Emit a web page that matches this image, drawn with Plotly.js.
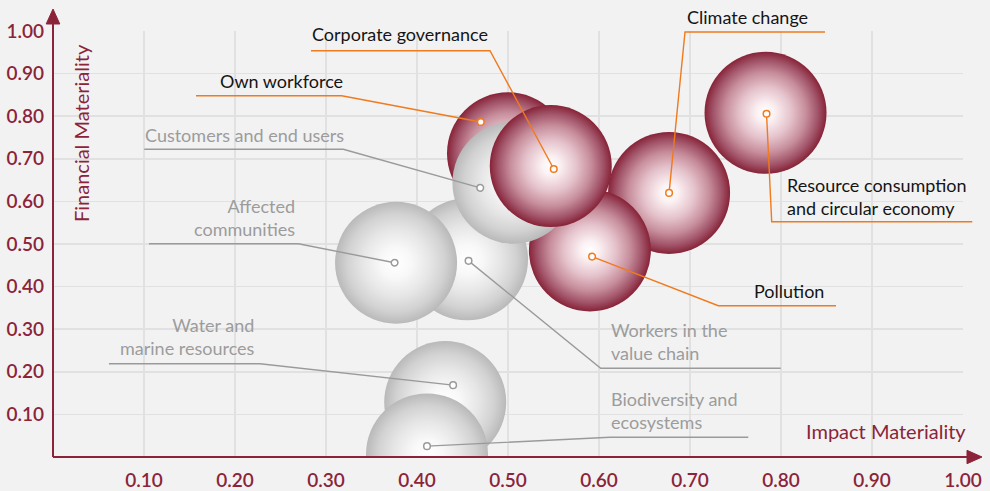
<!DOCTYPE html>
<html>
<head>
<meta charset="utf-8">
<script src="https://cdn.plot.ly/plotly-3.0.1.min.js"></script>
<style>
html,body{margin:0;padding:0;background:#f2f2f2;}
#chart{width:990px;height:491px;}
</style>
</head>
<body>
<div id="chart"></div>
<script>
// ---------- data (ESRS topics, drawing order) ----------
const topics = [
  "Climate change",
  "Pollution",
  "Water and marine resources",
  "Biodiversity and ecosystems",
  "Resource consumption and circular economy",
  "Own workforce",
  "Workers in the value chain",
  "Affected communities",
  "Customers and end users",
  "Corporate governance"
];
const impactMateriality    = [0.677, 0.590, 0.431, 0.411, 0.783, 0.500, 0.455, 0.377, 0.506, 0.547];
const financialMateriality = [0.620, 0.485, 0.129, 0.006, 0.808, 0.713, 0.464, 0.456, 0.644, 0.683];
const isMaterial           = [true, true, false, false, true, true, false, false, false, true];
const tickValues = [0.1, 0.2, 0.3, 0.4, 0.5, 0.6, 0.7, 0.8, 0.9, 1.0];
const tickLabels = ["0.10", "0.20", "0.30", "0.40", "0.50", "0.60", "0.70", "0.80", "0.90", "1.00"];

// ---------- layout / styling ----------
const L = 53, T = 31, W = 910, H = 426;
const fx = px => (px - L) / W;
const fy = py => (T + H - py) / H;

const RED = '#872338', GREY = '#b9b9b9', AXIS = '#8b2439';
const ORANGE = '#f07a1e', LEADGREY = '#9a9a9a';
const FONT = 'Lato, "Noto Sans", sans-serif';

// richer radial shading (applied to the gradients Plotly creates)
const RED_STOPS  = [[0, '#ffffff'], [0.15, '#fbf1f3'], [0.42, '#e5c3cc'], [0.66, '#c78e9c'], [0.85, '#a3566b'], [1, RED]];
const GREY_STOPS = [[0, '#ffffff'], [0.25, '#f8f8f8'], [0.55, '#e6e6e6'], [0.8, '#d2d2d2'], [1, GREY]];

// label placement (pixels): text position, anchor side, underline path, anchor offset from bubble centre
const labelLayout = {
  "Climate change": {text: "Climate change", x: 685, y: 17, xa: 'left', path: [[825, 32], [685, 32]], off: [0, 0]},
  "Corporate governance": {text: "Corporate governance", x: 490, y: 34, xa: 'right', path: [[311, 50.7], [490, 50.7]], off: [3, 3]},
  "Own workforce": {text: "Own workforce", x: 345, y: 81, xa: 'right', path: [[196, 95.7], [341.7, 95.7]], off: [-27.2, -31.2]},
  "Customers and end users": {text: "Customers and end users", x: 143, y: 135, xa: 'left', path: [[144.3, 149.3], [343.3, 149.3]], off: [-33.2, 5.2]},
  "Affected communities": {text: "Affected<br>communities", x: 297, y: 217, xa: 'right', path: [[149, 243.7], [298.3, 243.7]], off: [-1.5, 0]},
  "Water and marine resources": {text: "Water and<br>marine resources", x: 257, y: 337, xa: 'right', path: [[109, 363.7], [260, 363.7]], off: [7.9, -16.9]},
  "Workers in the value chain": {text: "Workers in the<br>value chain", x: 609, y: 341, xa: 'left', path: [[780.7, 368.3], [600.7, 368.3]], off: [1.5, 1.5]},
  "Biodiversity and ecosystems": {text: "Biodiversity and<br>ecosystems", x: 609, y: 410, xa: 'left', path: [[748.3, 437.3], [610, 437.3]], off: [0, -8.3]},
  "Pollution": {text: "Pollution", x: 752, y: 291, xa: 'left', path: [[836, 305.7], [718.3, 305.7]], off: [2.2, 6.2]},
  "Resource consumption and circular economy": {text: "Resource consumption<br>and circular economy", x: 785, y: 196, xa: 'left', path: [[972.3, 221.7], [771.7, 221.7]], off: [1, 1]}
};

const bubbleColors = isMaterial.map(m => m ? RED : GREY);

const bubbles = {
  type: 'scatter',
  mode: 'markers',
  x: impactMateriality,
  y: financialMateriality,
  text: topics,
  hoverinfo: 'text',
  cliponaxis: true,
  marker: {
    size: 122,
    color: bubbleColors,
    line: {width: 0},
    opacity: 1,
    gradient: {type: 'radial', color: '#ffffff'}
  },
  showlegend: false
};

const shapes = [];
const annotations = [];

// leader lines
topics.forEach((t, i) => {
  const cfg = labelLayout[t];
  const ax = impactMateriality[i] + cfg.off[0] / W;
  const ay = financialMateriality[i] - cfg.off[1] / H;
  const col = isMaterial[i] ? ORANGE : LEADGREY;
  let p = cfg.path.map((pt, k) => (k === 0 ? 'M' : 'L') + fx(pt[0]).toFixed(5) + ',' + fy(pt[1]).toFixed(5)).join(' ');
  p += ' L' + ax.toFixed(5) + ',' + ay.toFixed(5);
  shapes.push({type: 'path', xref: 'paper', yref: 'paper', path: p, line: {color: col, width: 1.4}, layer: 'above'});
});
// anchor circles + labels
topics.forEach((t, i) => {
  const cfg = labelLayout[t];
  const ax = impactMateriality[i] + cfg.off[0] / W;
  const ay = financialMateriality[i] - cfg.off[1] / H;
  const col = isMaterial[i] ? ORANGE : LEADGREY;
  shapes.push({type: 'circle', xref: 'paper', yref: 'paper', xsizemode: 'pixel', ysizemode: 'pixel',
    xanchor: ax, yanchor: ay, x0: -3.3, x1: 3.3, y0: -3.3, y1: 3.3,
    fillcolor: '#ffffff', line: {color: col, width: 1.5}, layer: 'above'});
  annotations.push({xref: 'paper', yref: 'paper', x: fx(cfg.x), y: fy(cfg.y), xanchor: cfg.xa, yanchor: 'middle',
    align: cfg.xa, text: cfg.text, showarrow: false,
    font: {family: FONT, size: 18, color: isMaterial[i] ? '#151515' : '#9c9c9c'}});
});

// axes with arrows
shapes.push({type: 'line', xref: 'paper', yref: 'paper', x0: 0, y0: 0, x1: 0, y1: fy(20), line: {color: AXIS, width: 2}, layer: 'above'});
shapes.push({type: 'line', xref: 'paper', yref: 'paper', x0: 0, y0: 0, x1: fx(972), y1: 0, line: {color: AXIS, width: 2}, layer: 'above'});
shapes.push({type: 'path', xref: 'paper', yref: 'paper', fillcolor: AXIS, line: {color: AXIS, width: 1}, layer: 'above',
  path: 'M' + fx(L) + ',' + fy(9) + ' L' + fx(L - 6.8) + ',' + fy(24) + ' L' + fx(L + 6.8) + ',' + fy(24) + ' Z'});
shapes.push({type: 'path', xref: 'paper', yref: 'paper', fillcolor: AXIS, line: {color: AXIS, width: 1}, layer: 'above',
  path: 'M' + fx(982) + ',0 L' + fx(967) + ',' + (6.7 / H) + ' L' + fx(967) + ',' + (-6.7 / H) + ' Z'});

annotations.push({xref: 'paper', yref: 'paper', x: fx(81), y: fy(133), xanchor: 'center', yanchor: 'middle',
  text: 'Financial Materiality', textangle: -90, showarrow: false, font: {family: FONT, size: 20, color: AXIS}});
annotations.push({xref: 'paper', yref: 'paper', x: fx(968), y: fy(431), xanchor: 'right', yanchor: 'middle',
  text: 'Impact Materiality', showarrow: false, font: {family: FONT, size: 20, color: AXIS}});

const axisCommon = {
  range: [0, 1],
  tickvals: tickValues,
  ticktext: tickLabels,
  showgrid: true,
  gridcolor: '#e1e1e1',
  gridwidth: 1.5,
  zeroline: false,
  showline: false,
  ticks: '',
  fixedrange: true,
  tickfont: {family: FONT, size: 19, color: AXIS, weight: 600}
};

const layout = {
  width: 990, height: 491,
  margin: {l: L, r: 990 - L - W, t: T, b: 491 - T - H},
  paper_bgcolor: '#f2f2f2',
  plot_bgcolor: '#f2f2f2',
  xaxis: Object.assign({}, axisCommon, {ticklabelstandoff: 10}),
  yaxis: Object.assign({}, axisCommon, {ticklabelstandoff: 8}),
  shapes: shapes,
  annotations: annotations,
  showlegend: false,
  hovermode: false
};

function restyleGradients() {
  const ns = 'http://www.w3.org/2000/svg';
  document.querySelectorAll('#chart radialGradient').forEach(g => {
    const stops = Array.from(g.querySelectorAll('stop'));
    const colours = stops.map(s => (s.getAttribute('stop-color') || '').replace(/\s/g, ''));
    const redish = colours.some(c => {
      const m = c.match(/rgba?\((\d+),(\d+),(\d+)/);
      return m && (+m[1] - +m[2] > 30);
    });
    const spec = redish ? RED_STOPS : GREY_STOPS;
    stops.forEach(s => s.remove());
    spec.forEach(([o, c]) => {
      const s = document.createElementNS(ns, 'stop');
      s.setAttribute('offset', (o * 100) + '%');
      s.setAttribute('stop-color', c);
      s.setAttribute('stop-opacity', '1');
      g.appendChild(s);
    });
  });
}

Plotly.newPlot('chart', [bubbles], layout, {displayModeBar: false, staticPlot: true}).then(restyleGradients);
</script>
</body>
</html>
